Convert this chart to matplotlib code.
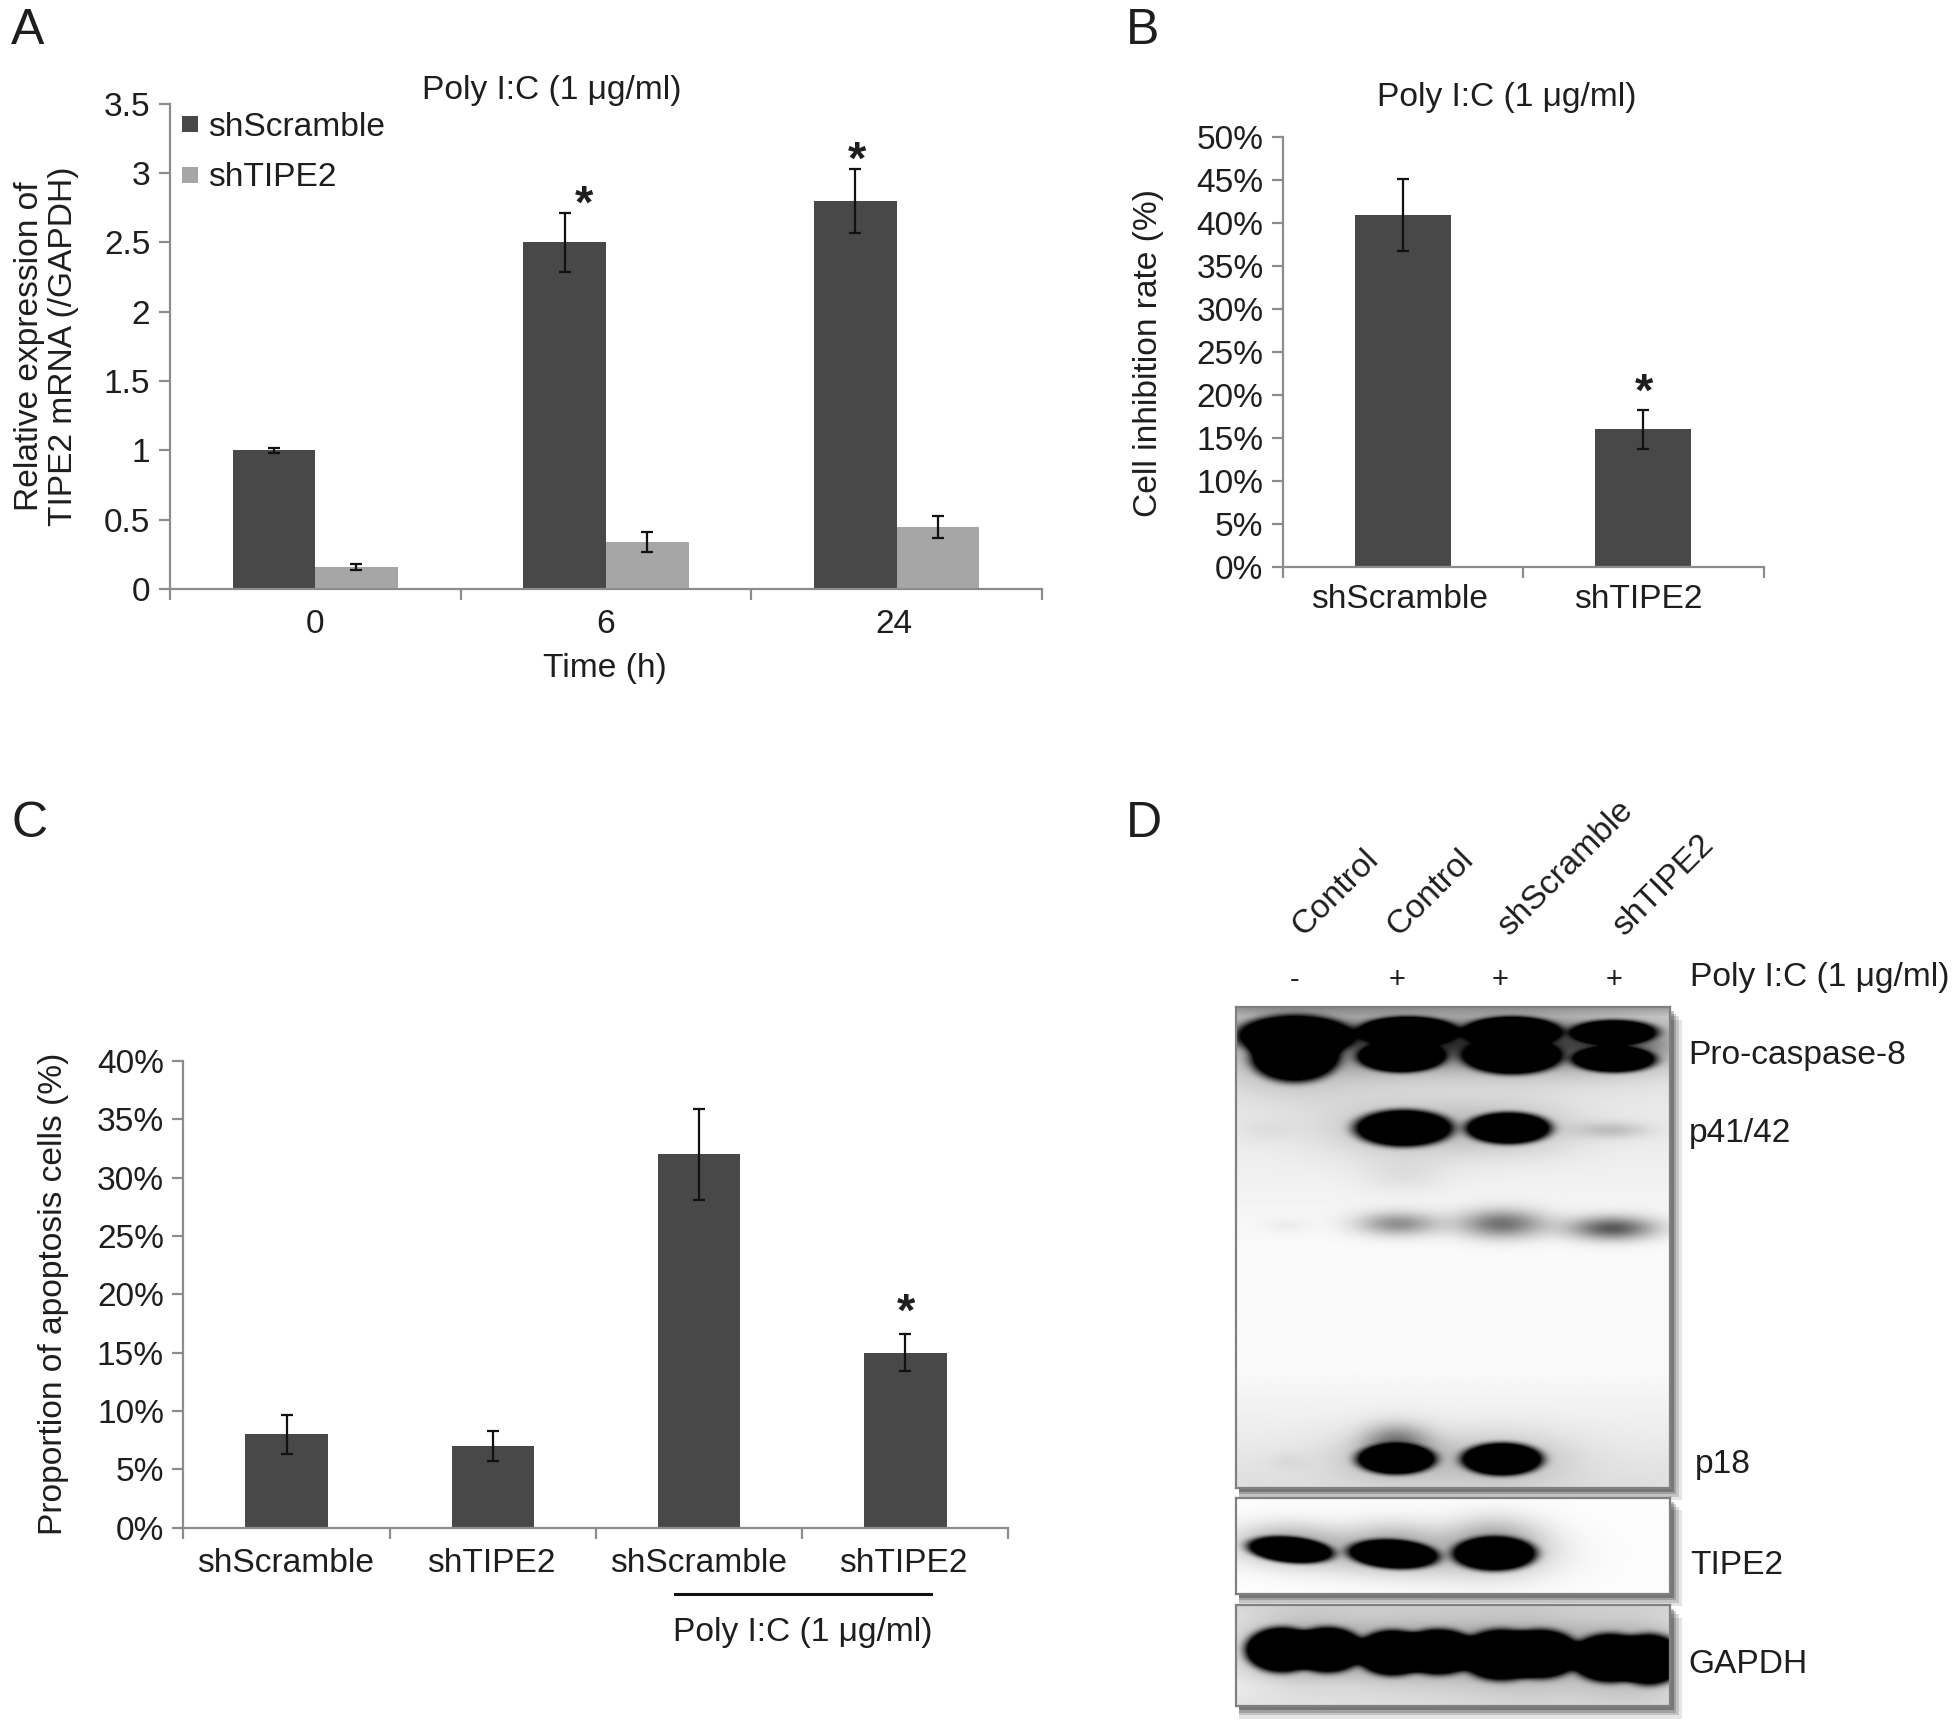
"""Poly I:C / TIPE2 figure: three bar panels and a western blot panel."""
import matplotlib

matplotlib.use("Agg")
import matplotlib.pyplot as plt
import numpy as np
from matplotlib.lines import Line2D
from matplotlib.patches import Rectangle

plt.rcParams["font.family"] = ["Liberation Sans", "DejaVu Sans"]

W, H = 1957, 1735
SCALE = 1957 / 1568
DARK = "#484848"
LIGHT = "#a6a6a6"
AXIS = "#8c8c8c"
TXT = "#1e1e1e"
FS = 24.1

TIME = ["0", "6", "24"]
A_SCRAMBLE = [1.0, 2.5, 2.8]
A_SCRAMBLE_ERR = [0.02, 0.215, 0.23]
A_TIPE2 = [0.16, 0.34, 0.45]
A_TIPE2_ERR = [0.02, 0.07, 0.08]
A_TICKS = [0, 0.5, 1, 1.5, 2, 2.5, 3, 3.5]
A_TICKLABELS = ["0", "0.5", "1", "1.5", "2", "2.5", "3", "3.5"]

B_GROUPS = ["shScramble", "shTIPE2"]
B_VALUES = [41, 16]
B_ERR = [4.2, 2.3]

C_GROUPS = ["shScramble", "shTIPE2", "shScramble", "shTIPE2"]
C_VALUES = [8, 7, 32, 15]
C_ERR = [1.7, 1.3, 3.9, 1.6]

# blot bands: centre x, centre y, half width, half height, density, tilt
CASPASE_BANDS = [
    (0.135, 0.060, 0.124, 0.040, 1.3, 0), (0.135, 0.105, 0.094, 0.048, 1.3, 0),
    (0.395, 0.050, 0.104, 0.028, 1.3, 0), (0.380, 0.105, 0.090, 0.029, 1.3, 0),
    (0.635, 0.050, 0.102, 0.028, 1.3, 0), (0.635, 0.105, 0.102, 0.033, 1.3, 0),
    (0.870, 0.052, 0.094, 0.024, 1.05, 0), (0.870, 0.110, 0.090, 0.025, 1.15, 0),
    (0.390, 0.078, 0.100, 0.030, 0.55, 0), (0.635, 0.078, 0.100, 0.030, 0.6, 0),
    (0.870, 0.080, 0.090, 0.028, 0.45, 0),
    (0.385, 0.252, 0.106, 0.036, 1.4, 0), (0.627, 0.252, 0.092, 0.031, 1.4, 0),
    (0.865, 0.256, 0.070, 0.014, 0.16, 0), (0.385, 0.350, 0.080, 0.030, 0.06, 0),
    (0.070, 0.256, 0.060, 0.020, 0.04, 0),
    (0.373, 0.451, 0.075, 0.020, 0.40, 0), (0.612, 0.451, 0.080, 0.024, 0.52, 0),
    (0.865, 0.460, 0.080, 0.020, 0.62, 0), (0.115, 0.455, 0.040, 0.012, 0.04, 0),
    (0.368, 0.940, 0.086, 0.030, 1.3, 0), (0.612, 0.940, 0.088, 0.032, 1.4, 0),
    (0.368, 0.905, 0.060, 0.030, 0.4, 0), (0.120, 0.945, 0.035, 0.015, 0.04, 0),
]
TIPE2_BANDS = [
    (0.125, 0.545, 0.092, 0.125, 1.4, 0.55), (0.362, 0.590, 0.097, 0.140, 1.4, 0.35),
    (0.595, 0.585, 0.090, 0.165, 1.4, 0.0),
    (0.125, 0.450, 0.090, 0.160, 0.18, 0), (0.362, 0.480, 0.090, 0.190, 0.20, 0),
    (0.595, 0.450, 0.085, 0.200, 0.25, 0),
]
GAPDH_BANDS = [
    (0.105, 0.450, 0.078, 0.205, 1.5, 0), (0.210, 0.450, 0.078, 0.205, 1.5, 0),
    (0.360, 0.480, 0.078, 0.205, 1.5, 0), (0.465, 0.470, 0.084, 0.205, 1.5, 0),
    (0.610, 0.500, 0.088, 0.230, 1.5, 0), (0.700, 0.490, 0.084, 0.220, 1.5, 0),
    (0.860, 0.530, 0.084, 0.220, 1.5, 0), (0.950, 0.545, 0.074, 0.230, 1.5, 0),
]

# vertical background shade of each membrane: position, grey
CASPASE_BG = ([0, 0.02, 0.15, 0.30, 0.50, 0.75, 0.90, 1], [0.62, 0.82, 0.90, 0.93, 0.98, 0.98, 0.92, 0.87])
TIPE2_BG = ([0, 1], [0.99, 0.99])
GAPDH_BG = ([0, 0.15, 0.80, 1], [0.86, 0.92, 0.96, 0.90])


def axes_px(fig, x0, x1, y_top, y_bottom):
    """Axes from a box in 1568 wide view pixels."""
    return fig.add_axes([x0 / 1568, 1 - y_bottom / 1390, (x1 - x0) / 1568, (y_bottom - y_top) / 1390])


def label(fig, x, y, s, **kw):
    kw.setdefault("fontsize", FS)
    kw.setdefault("color", TXT)
    kw.setdefault("va", "center")
    fig.text(x / 1568, 1 - (y + 2.5) / 1390, s, **kw)


def style_axis(ax, n_groups, yticks, ylabels):
    ax.set_xlim(0, n_groups)
    for side in ("top", "right"):
        ax.spines[side].set_visible(False)
    for side in ("left", "bottom"):
        ax.spines[side].set_color(AXIS)
        ax.spines[side].set_linewidth(1.6)
    ax.set_xticks(np.arange(n_groups + 1))
    ax.set_xticklabels([])
    ax.set_yticks(yticks, ylabels)
    ax.tick_params(axis="both", color=AXIS, width=1.6, length=8)
    ax.tick_params(axis="y", labelsize=FS, labelcolor=TXT, pad=6)
    ax.patch.set_alpha(0)


def draw_bars(ax, x, values, err, color, width):
    ax.bar(x, values, width, color=color, zorder=2)
    ax.errorbar(x, values, yerr=err, fmt="none", ecolor="#111111", elinewidth=1.6,
                capsize=4.5, capthick=1.6, zorder=3)


def band_density(shape, bands):
    h, w = shape
    yy, xx = np.mgrid[0:h, 0:w]
    xx = (xx + 0.5) / w
    yy = (yy + 0.5) / h
    dens = np.zeros(shape)
    for cx, cy, hw, hh, amp, tilt in bands:
        dx = (xx - cx) / hw
        dy = (yy - cy) / hh - tilt * dx * 0.5
        r2 = dx ** 2 + dy ** 2
        if amp < 0.8:
            dens += amp * np.exp(-0.693 * r2)  # faint bands stay soft
        else:
            dens += amp * np.exp(-0.693 * r2 ** 3)
            dens += 0.12 * amp * np.exp(-0.693 * r2 / 2.0)
    return dens


def draw_blot(fig, x0, x1, y_top, y_bottom, bands, bg):
    # soft shadow right of and under the membrane
    for off, alpha in zip((10, 7, 5, 3), (0.10, 0.14, 0.18, 0.25)):
        fig.add_artist(Rectangle(((x0 + 3) / 1568, 1 - (y_bottom + off) / 1390),
                                 (x1 - x0 + off - 3) / 1568, (y_bottom - y_top) / 1390,
                                 transform=fig.transFigure, color="black", alpha=alpha, lw=0,
                                 zorder=-1))
    ax = axes_px(fig, x0, x1, y_top, y_bottom)
    shape = (int((y_bottom - y_top) * SCALE), int((x1 - x0) * SCALE))
    back = np.interp((np.arange(shape[0]) + 0.5) / shape[0], bg[0], bg[1])[:, None]
    img = np.clip(back - band_density(shape, bands), 0, 1)
    ax.imshow(img, cmap="gray", vmin=0, vmax=1, aspect="auto", interpolation="bilinear")
    ax.set_xticks([])
    ax.set_yticks([])
    for sp in ax.spines.values():
        sp.set_color("#808080")
        sp.set_linewidth(1.6)


def main():
    fig = plt.figure(figsize=(W / 100, H / 100), dpi=100, facecolor="white")

    # panel A
    ax = axes_px(fig, 136, 835, 83, 472)
    x = np.arange(len(TIME)) + 0.5
    bw = 0.284
    draw_bars(ax, x - bw / 2, A_SCRAMBLE, A_SCRAMBLE_ERR, DARK, bw)
    draw_bars(ax, x + bw / 2, A_TIPE2, A_TIPE2_ERR, LIGHT, bw)
    style_axis(ax, len(TIME), A_TICKS, A_TICKLABELS)
    ax.set_ylim(0, 3.5)
    for xs, t in zip((252, 485, 716), TIME):
        label(fig, xs, 498, t, ha="center")
    label(fig, 485, 533, "Time (h)", ha="center")
    label(fig, 442, 70, "Poly I:C (1 \u03bcg/ml)", ha="center")
    label(fig, 24, 275, "Relative expression of", rotation=90, ha="center")
    label(fig, 51, 275, "TIPE2 mRNA (/GAPDH)", rotation=90, ha="center")
    fig.add_artist(Rectangle((146 / 1568, 1 - 106 / 1390), 13 / 1568, 13 / 1390,
                             transform=fig.transFigure, color=DARK, lw=0))
    fig.add_artist(Rectangle((146 / 1568, 1 - 147 / 1390), 13 / 1568, 13 / 1390,
                             transform=fig.transFigure, color=LIGHT, lw=0))
    label(fig, 167, 100, "shScramble")
    label(fig, 167, 140, "shTIPE2")
    label(fig, 468, 162, "*", ha="center", fontsize=34, fontweight="bold")
    label(fig, 687, 127, "*", ha="center", fontsize=34, fontweight="bold")

    # panel B
    ax = axes_px(fig, 1028, 1413, 110, 454)
    x = np.arange(len(B_GROUPS)) + 0.5
    draw_bars(ax, x, B_VALUES, B_ERR, DARK, 0.4)
    style_axis(ax, len(B_GROUPS), np.arange(0, 51, 5), [f"{v}%" for v in range(0, 51, 5)])
    ax.set_ylim(0, 50)
    for xs, t in zip((1121, 1313), B_GROUPS):
        label(fig, xs, 478, t, ha="center")
    label(fig, 1207, 76, "Poly I:C (1 \u03bcg/ml)", ha="center")
    label(fig, 920, 280, "Cell inhibition rate (%)", rotation=90, ha="center")
    label(fig, 1317, 313, "*", ha="center", fontsize=34, fontweight="bold")

    # panel C
    ax = axes_px(fig, 147, 808, 850, 1224)
    x = np.arange(len(C_GROUPS)) + 0.5
    draw_bars(ax, x, C_VALUES, C_ERR, DARK, 0.4)
    style_axis(ax, len(C_GROUPS), np.arange(0, 41, 5), [f"{v}%" for v in range(0, 41, 5)])
    ax.set_ylim(0, 40)
    for xs, t in zip((229, 394, 560, 724), C_GROUPS):
        label(fig, xs, 1250, t, ha="center")
    fig.add_artist(Line2D([541 / 1568, 746 / 1568], [1 - 1277 / 1390] * 2, color="#111111", lw=2.2))
    label(fig, 643, 1305, "Poly I:C (1 \u03bcg/ml)", ha="center")
    label(fig, 43, 1034, "Proportion of apoptosis cells (%)", rotation=90, ha="center")
    label(fig, 726, 1050, "*", ha="center", fontsize=34, fontweight="bold")

    # panel D
    draw_blot(fig, 990, 1338, 807, 1192, CASPASE_BANDS, CASPASE_BG)
    draw_blot(fig, 990, 1338, 1200, 1277, TIPE2_BANDS, TIPE2_BG)
    draw_blot(fig, 990, 1338, 1286, 1367, GAPDH_BANDS, GAPDH_BG)
    for xs, t in zip((1048, 1124, 1213, 1305), ("Control", "Control", "shScramble", "shTIPE2")):
        label(fig, xs, 752, t, rotation=45, rotation_mode="anchor", ha="left", va="bottom",
              fontsize=FS)
    for xs, t in zip((1037, 1119, 1202, 1293), "-+++"):
        label(fig, xs, 783, t, ha="center", fontsize=21)
    label(fig, 1354, 781, "Poly I:C (1 \u03bcg/ml)", fontsize=FS)
    for xs, ys, t in zip((1353, 1353, 1358, 1354, 1353), (843, 906, 1171, 1252, 1331),
                         ("Pro-caspase-8", "p41/42", "p18", "TIPE2", "GAPDH")):
        label(fig, xs, ys, t, fontsize=FS)

    for xs, ys, t in zip((9, 902, 9, 902), (22, 22, 658, 658), "ABCD"):
        label(fig, xs, ys, t, fontsize=36)

    fig.savefig("out.png", dpi=100)
    plt.close(fig)


if __name__ == "__main__":
    main()
